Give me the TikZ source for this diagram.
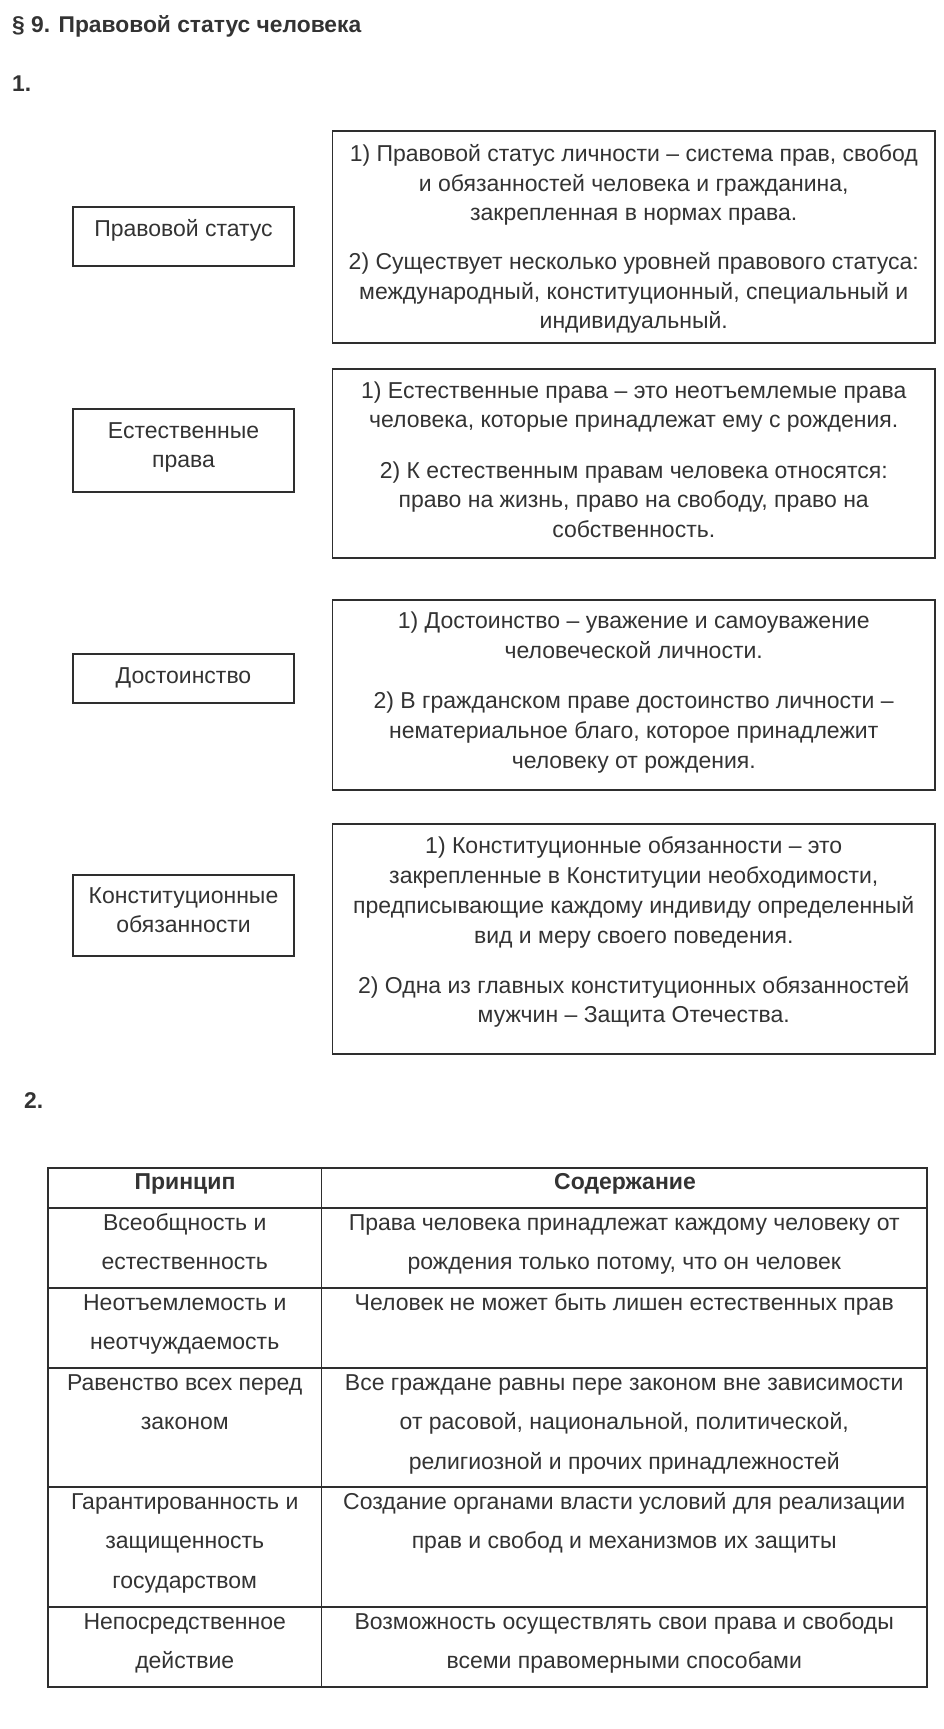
\documentclass[tikz,border=0pt]{standalone}
\usepackage{fontspec}
\setmainfont{Liberation Sans}
\definecolor{ink}{HTML}{333333}
\definecolor{rule}{HTML}{2E2E2E}
\newcommand\bodyfont{\fontsize{23}{27}\selectfont}
\newcommand\titlefont{\fontsize{22.8}{26}\selectfont\bfseries}
\begin{document}
\begin{tikzpicture}[x=1pt,y=-1pt,
  box/.style={draw=rule, line width=1.8pt, inner sep=0pt},
  ln/.style={anchor=base, inner sep=0pt, text=ink, font=\bodyfont},
  hd/.style={anchor=base, inner sep=0pt, text=ink, font=\titlefont},
  grid/.style={draw=rule, line width=1.1pt}]
\useasboundingbox[fill=white] (0,0) rectangle (944,1729);

% Title
\node[hd, anchor=base west] (title) at (12,32.5) {§ 9. Правовой статус человека};
\node[hd, anchor=base west] (n1) at (12,91.5) {1.};

% Row 1
\node[box, minimum width=221pt, minimum height=59pt] (L1) at (183.5,236.2) {};
\node[ln] (L1a) at (183.5,236) {Правовой статус};
\node[box, minimum width=602.5pt, minimum height=212pt] (R1) at (633.75,237) {};
\node[ln] (R1a) at (633.75,161.5) {1) Правовой статус личности – система прав, свобод};
\node[ln] (R1b) at (633.75,191) {и обязанностей человека и гражданина,};
\node[ln] (R1c) at (633.75,220.5) {закрепленная в нормах права.};
\node[ln] (R1d) at (633.75,269.5) {2) Существует несколько уровней правового статуса:};
\node[ln] (R1e) at (633.75,299) {международный, конституционный, специальный и};
\node[ln] (R1f) at (633.75,328.5) {индивидуальный.};

% Row 2
\node[box, minimum width=221pt, minimum height=83pt] (L2) at (183.5,450.5) {};
\node[ln] (L2a) at (183.5,438) {Естественные};
\node[ln] (L2b) at (183.5,467.5) {права};
\node[box, minimum width=602.5pt, minimum height=189pt] (R2) at (633.75,463.5) {};
\node[ln] (R2a) at (633.75,398) {1) Естественные права – это неотъемлемые права};
\node[ln] (R2b) at (633.75,427.5) {человека, которые принадлежат ему с рождения.};
\node[ln] (R2c) at (633.75,478) {2) К естественным правам человека относятся:};
\node[ln] (R2d) at (633.75,507.5) {право на жизнь, право на свободу, право на};
\node[ln] (R2e) at (633.75,537.5) {собственность.};

% Row 3
\node[box, minimum width=221pt, minimum height=49pt] (L3) at (183.5,678.5) {};
\node[ln] (L3a) at (183.5,683) {Достоинство};
\node[box, minimum width=602.5pt, minimum height=190pt] (R3) at (633.75,695) {};
\node[ln] (R3a) at (633.75,628) {1) Достоинство – уважение и самоуважение};
\node[ln] (R3b) at (633.75,658) {человеческой личности.};
\node[ln] (R3c) at (633.75,708.5) {2) В гражданском праве достоинство личности –};
\node[ln] (R3d) at (633.75,738.5) {нематериальное благо, которое принадлежит};
\node[ln] (R3e) at (633.75,768) {человеку от рождения.};

% Row 4
\node[box, minimum width=221pt, minimum height=81pt] (L4) at (183.5,915.5) {};
\node[ln] (L4a) at (183.5,903) {Конституционные};
\node[ln] (L4b) at (183.5,932.5) {обязанности};
\node[box, minimum width=602.5pt, minimum height=230pt] (R4) at (633.75,939) {};
\node[ln] (R4a) at (633.75,853) {1) Конституционные обязанности – это};
\node[ln] (R4b) at (633.75,883) {закрепленные в Конституции необходимости,};
\node[ln] (R4c) at (633.75,913.5) {предписывающие каждому индивиду определенный};
\node[ln] (R4d) at (633.75,943) {вид и меру своего поведения.};
\node[ln] (R4e) at (633.75,993) {2) Одна из главных конституционных обязанностей};
\node[ln] (R4f) at (633.75,1022.5) {мужчин – Защита Отечества.};

% Part 2
\node[hd, anchor=base west] (n2) at (24,1108) {2.};

% Table grid
\coordinate (TL) at (48,1168);
\coordinate (TR) at (927,1168);
\coordinate (BL) at (48,1687);
\coordinate (BR) at (927,1687);
\coordinate (CT) at (321.5,1168);
\coordinate (CB) at (321.5,1687);
\draw[grid] (TL) rectangle (BR);
\draw[grid] (CT) -- (CB);
\foreach \yy [count=\i] in {1208,1288,1368,1487,1607}{
  \coordinate (hl\i) at (48,\yy);
  \coordinate (hr\i) at (927,\yy);
  \draw[grid] (hl\i) -- (hr\i);
}

% Header
\node[ln, font=\bodyfont\bfseries] (H1) at (185,1189) {Принцип};
\node[ln, font=\bodyfont\bfseries] (H2) at (625,1189) {Содержание};

% Table rows
\node[ln] (A1a) at (184.75,1230) {Всеобщность и};
\node[ln] (A1b) at (184.75,1269.5) {естественность};
\node[ln] (B1a) at (624.25,1230) {Права человека принадлежат каждому человеку от};
\node[ln] (B1b) at (624.25,1269.5) {рождения только потому, что он человек};

\node[ln] (A2a) at (184.75,1310) {Неотъемлемость и};
\node[ln] (A2b) at (184.75,1349.5) {неотчуждаемость};
\node[ln] (B2a) at (624.25,1310) {Человек не может быть лишен естественных прав};

\node[ln] (A3a) at (184.75,1390) {Равенство всех перед};
\node[ln] (A3b) at (184.75,1429.5) {законом};
\node[ln] (B3a) at (624.25,1390) {Все граждане равны пере законом вне зависимости};
\node[ln] (B3b) at (624.25,1429.5) {от расовой, национальной, политической,};
\node[ln] (B3c) at (624.25,1469) {религиозной и прочих принадлежностей};

\node[ln] (A4a) at (184.75,1509) {Гарантированность и};
\node[ln] (A4b) at (184.75,1548.5) {защищенность};
\node[ln] (A4c) at (184.75,1588) {государством};
\node[ln] (B4a) at (624.25,1509) {Создание органами власти условий для реализации};
\node[ln] (B4b) at (624.25,1548.5) {прав и свобод и механизмов их защиты};

\node[ln] (A5a) at (184.75,1629) {Непосредственное};
\node[ln] (A5b) at (184.75,1668) {действие};
\node[ln] (B5a) at (624.25,1629) {Возможность осуществлять свои права и свободы};
\node[ln] (B5b) at (624.25,1668) {всеми правомерными способами};
\end{tikzpicture}
\end{document}
